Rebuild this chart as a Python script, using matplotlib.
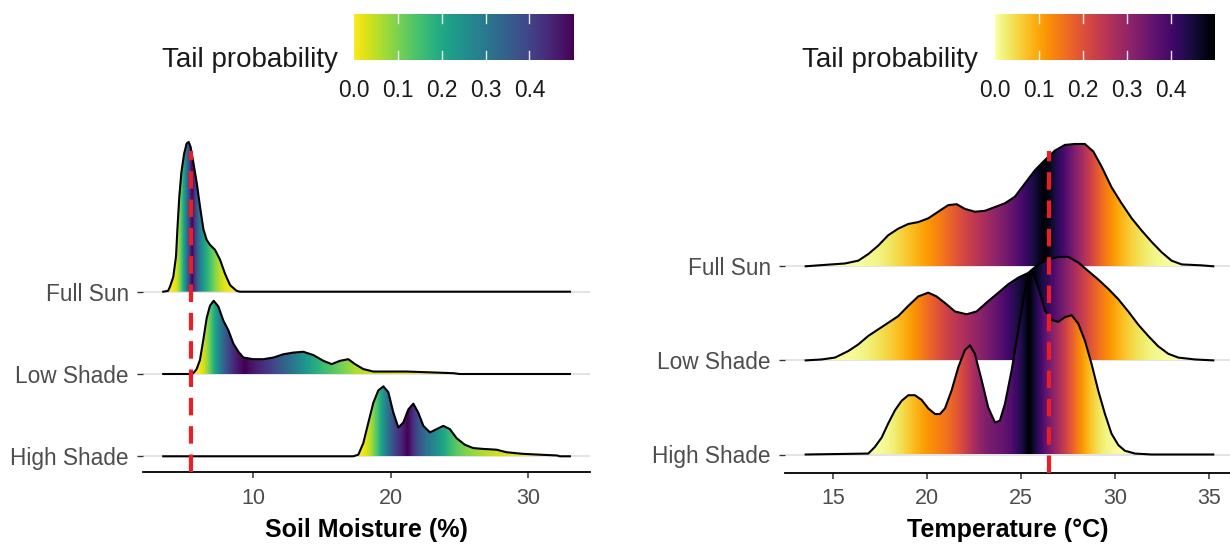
import numpy as np
import matplotlib
matplotlib.use("Agg")
import matplotlib.pyplot as plt
from matplotlib.patches import Polygon

plt.rcParams['font.family'] = ['Liberation Sans', 'DejaVu Sans']

# ---------------- data ----------------
groups = ['High Shade', 'Low Shade', 'Full Sun']   # bottom -> top

# Soil moisture (%) ridge heights (in units of row spacing)
sm_full_x = [3.45, 3.8, 3.94, 4.18, 4.38, 4.48, 4.62, 4.77, 4.96, 5.15, 5.30, 5.44, 5.64, 5.88,
             6.12, 6.37, 6.61, 6.85, 7.21, 7.58, 7.94, 8.31, 8.79, 9.03, 33.03]
sm_full_h = [0, 0.01, 0.06, 0.18, 0.43, 0.76, 1.16, 1.45, 1.67, 1.80, 1.82, 1.76, 1.57, 1.33,
             1.04, 0.76, 0.63, 0.57, 0.51, 0.39, 0.22, 0.08, 0.01, 0, 0]
sm_low_x = [3.45, 5.40, 5.64, 5.88, 6.12, 6.37, 6.61, 6.85, 7.12, 7.46, 7.82, 8.19, 8.55, 8.92,
            9.28, 10.0, 10.73, 11.46, 12.19, 12.91, 13.64, 14.37, 15.1, 15.7, 16.3, 16.91, 17.4,
            18.0, 18.73, 21.15, 22.85, 24.54, 25.0, 33.03]
sm_low_h = [0, 0, 0.01, 0.06, 0.17, 0.42, 0.68, 0.83, 0.89, 0.82, 0.65, 0.53, 0.37, 0.27,
            0.20, 0.18, 0.18, 0.20, 0.24, 0.26, 0.27, 0.23, 0.16, 0.12, 0.16, 0.18, 0.12,
            0.06, 0.03, 0.03, 0.02, 0.01, 0, 0]
sm_high_x = [3.45, 17.27, 17.64, 18.0, 18.37, 18.73, 19.09, 19.46, 19.82, 20.19, 20.55, 20.91,
             21.28, 21.64, 22.0, 22.37, 22.85, 23.33, 23.82, 24.3, 24.79, 25.39, 26.0, 26.7,
             27.7, 28.4, 29.6, 30.8, 32.1, 32.3, 33.03]
sm_high_h = [0, 0, 0.02, 0.16, 0.41, 0.65, 0.80, 0.85, 0.78, 0.53, 0.35, 0.41,
             0.57, 0.64, 0.53, 0.37, 0.29, 0.33, 0.37, 0.33, 0.22, 0.14, 0.10, 0.09,
             0.08, 0.05, 0.03, 0.02, 0.01, 0, 0]

# Temperature (°C)
t_full_x = [13.55, 14.22, 15.64, 16.35, 16.88, 17.41, 17.94, 18.47, 19.01, 19.54, 20.07, 20.6,
            21.13, 21.58, 22.02, 22.55, 23.09, 23.62, 24.15, 24.68, 25.21, 25.74, 26.28, 26.81,
            27.34, 27.87, 28.4, 28.85, 29.29, 29.82, 30.35, 30.89, 31.42, 31.95, 32.48, 33.01,
            33.55, 34.61, 35.23]
t_full_h = [0, 0.01, 0.03, 0.06, 0.13, 0.22, 0.33, 0.40, 0.45, 0.47, 0.51, 0.58,
            0.65, 0.66, 0.61, 0.58, 0.59, 0.63, 0.67, 0.74, 0.88, 1.02, 1.13, 1.23,
            1.29, 1.30, 1.30, 1.22, 1.06, 0.84, 0.67, 0.51, 0.38, 0.26, 0.15, 0.06,
            0.02, 0.01, 0]
t_low_x = [13.55, 14.4, 15.11, 15.82, 16.35, 16.88, 17.41, 17.94, 18.47, 19.01, 19.54, 20.07,
           20.51, 20.96, 21.49, 22.11, 22.64, 23.26, 23.8, 24.33, 24.86, 25.39, 25.92, 26.45,
           26.99, 27.52, 28.05, 28.58, 29.11, 29.65, 30.18, 30.71, 31.24, 31.77, 32.3, 32.84,
           33.37, 34.26, 35.23]
t_low_h = [0, 0.01, 0.03, 0.10, 0.17, 0.26, 0.33, 0.40, 0.47, 0.58, 0.68, 0.72,
           0.68, 0.61, 0.52, 0.49, 0.52, 0.63, 0.72, 0.81, 0.88, 0.93, 1.02, 1.07,
           1.10, 1.10, 1.04, 0.95, 0.86, 0.76, 0.65, 0.52, 0.38, 0.26, 0.15, 0.07,
           0.03, 0.01, 0]
t_high_x = [13.55, 16.88, 17.23, 17.59, 17.94, 18.3, 18.65, 19.01, 19.36, 19.72, 20.07, 20.43,
            20.69, 20.96, 21.31, 21.67, 22.02, 22.29, 22.55, 22.91, 23.26, 23.62, 23.88, 24.15,
            24.5, 24.86, 25.21, 25.57, 25.92, 26.28, 26.63, 26.99, 27.34, 27.7, 28.05, 28.4,
            28.76, 29.11, 29.47, 29.82, 30.18, 30.53, 31.06, 31.95, 35.23]
t_high_h = [0, 0.01, 0.08, 0.18, 0.33, 0.47, 0.57, 0.63, 0.63, 0.58, 0.49, 0.43,
            0.43, 0.49, 0.68, 0.93, 1.11, 1.16, 1.07, 0.79, 0.50, 0.34, 0.36, 0.54,
            0.89, 1.32, 1.74, 1.96, 1.78, 1.53, 1.43, 1.41, 1.46, 1.48, 1.39, 1.21,
            0.96, 0.68, 0.43, 0.22, 0.10, 0.04, 0.01, 0, 0]

sm_ref = 5.45
t_ref = 26.5

sm_ticks = [10, 20, 30]
t_ticks = [15, 20, 25, 30, 35]
cbar_ticks = [0.0, 0.1, 0.2, 0.3, 0.4]
cbar_labels = ['0.0', '0.1', '0.2', '0.3', '0.4']

# ---------------- drawing ----------------
W, H = 1230, 545
fig = plt.figure(figsize=(W / 100, H / 100), dpi=100)


def px_rect(x0, y0, x1, y1):
    return [x0 / W, 1 - y1 / H, (x1 - x0) / W, (y1 - y0) / H]


def ridge_panel(rect, series, xlim, ylim, xticks, cmap, ref, xlabel):
    ax = fig.add_axes(rect)
    for i in range(len(groups)):
        ax.axhline(i, color='#DCDCDC', lw=1.1, zorder=1)
    for z, (name, xs, hs) in enumerate(series):
        xs = np.asarray(xs, float)
        hs = np.asarray(hs, float)
        base = groups.index(name)
        y = base + hs
        verts = [(xs[0], base)] + list(zip(xs, y)) + [(xs[-1], base)]
        poly = Polygon(verts, closed=True, facecolor='none', edgecolor='none')
        ax.add_patch(poly)
        cdf = np.concatenate([[0], np.cumsum(0.5 * (hs[1:] + hs[:-1]) * np.diff(xs))])
        cdf /= cdf[-1]
        xx = np.linspace(xs[0], xs[-1], 1500)
        tail = 0.5 - np.abs(0.5 - np.interp(xx, xs, cdf))
        im = ax.imshow(tail[None, :], extent=(xs[0], xs[-1], base, base + hs.max() + 0.05),
                       aspect='auto', origin='lower', cmap=cmap, vmin=0, vmax=0.5,
                       interpolation='bilinear', zorder=2 + z)
        im.set_clip_path(poly)
        ax.plot(xs, y, color='black', lw=1.5, zorder=2.5 + z, solid_joinstyle='round')
    ax.axvline(ref, ymin=0, ymax=0.94, color='#EE1C25', lw=3.0,
               linestyle=(0, (4.2, 2.6)), zorder=10)
    ax.set_xlim(xlim)
    ax.set_ylim(ylim)
    ax.set_aspect('auto')
    for s in ['top', 'right', 'left']:
        ax.spines[s].set_visible(False)
    ax.spines['bottom'].set_linewidth(1.3)
    ax.spines['bottom'].set_color('black')
    ax.set_yticks(range(len(groups)), groups)
    ax.set_xticks(xticks)
    ax.tick_params(axis='y', length=4.3, width=1.0, color='#333333', labelcolor='#4D4D4D',
                   labelsize=16.3, pad=6.0)
    ax.tick_params(axis='x', length=4.3, width=1.1, color='#333333', labelcolor='#4D4D4D',
                   labelsize=15.5, pad=7.0)
    pos = ax.get_position()
    fig.text(pos.x0 + pos.width / 2, 1 - 536.5 / H, xlabel, ha='center', va='baseline',
             fontsize=18, fontweight='bold', color='black')
    return ax


def legend(x0, x1, cmap, title_x):
    cax = fig.add_axes(px_rect(x0, 14, x1, 60))
    grad = np.linspace(0, 0.5, 512)[None, :]
    cax.imshow(grad, extent=(0, 0.5, 0, 1), aspect='auto', cmap=cmap, vmin=0, vmax=0.5,
               interpolation='bilinear')
    cax.set_xlim(0, 0.5)
    cax.set_ylim(0, 1)
    cax.axis('off')
    for v in cbar_ticks[1:]:
        cax.plot([v, v], [0, 0.19], color='white', lw=1.0, alpha=0.9)
        cax.plot([v, v], [0.81, 1], color='white', lw=1.0, alpha=0.9)
    for v, lab in zip(cbar_ticks, cbar_labels):
        cax.text(v, (60 - 96.7) / 46, lab, transform=cax.get_xaxis_transform(),
                 ha='center', va='baseline', fontsize=16.3, color='#1A1A1A')
    fig.text(title_x / W, 1 - 66.7 / H, 'Tail probability', ha='left', va='baseline',
             fontsize=20, color='#1A1A1A')


# Left panel: soil moisture
ridge_panel(px_rect(143.3, 130, 590, 472.3),
            [('Full Sun', sm_full_x, sm_full_h),
             ('Low Shade', sm_low_x, sm_low_h),
             ('High Shade', sm_high_x, sm_high_h)],
            xlim=(2.0, 34.49), ylim=(-(472.3 - 456.3) / 82.3, (456.3 - 130) / 82.3),
            xticks=sm_ticks, cmap='viridis_r', ref=sm_ref, xlabel='Soil Moisture (%)')

# Right panel: temperature
ridge_panel(px_rect(785, 130, 1230, 472.7),
            [('Full Sun', t_full_x, t_full_h),
             ('Low Shade', t_low_x, t_low_h),
             ('High Shade', t_high_x, t_high_h)],
            xlim=(12.45, 36.12), ylim=(-(472.7 - 454.5) / 94.1, (454.5 - 130) / 94.1),
            xticks=t_ticks, cmap='inferno_r', ref=t_ref, xlabel='Temperature (°C)')

legend(354, 573.3, 'viridis_r', 161.7)
legend(995, 1215, 'inferno_r', 801.7)

fig.savefig('out.png', dpi=100)
